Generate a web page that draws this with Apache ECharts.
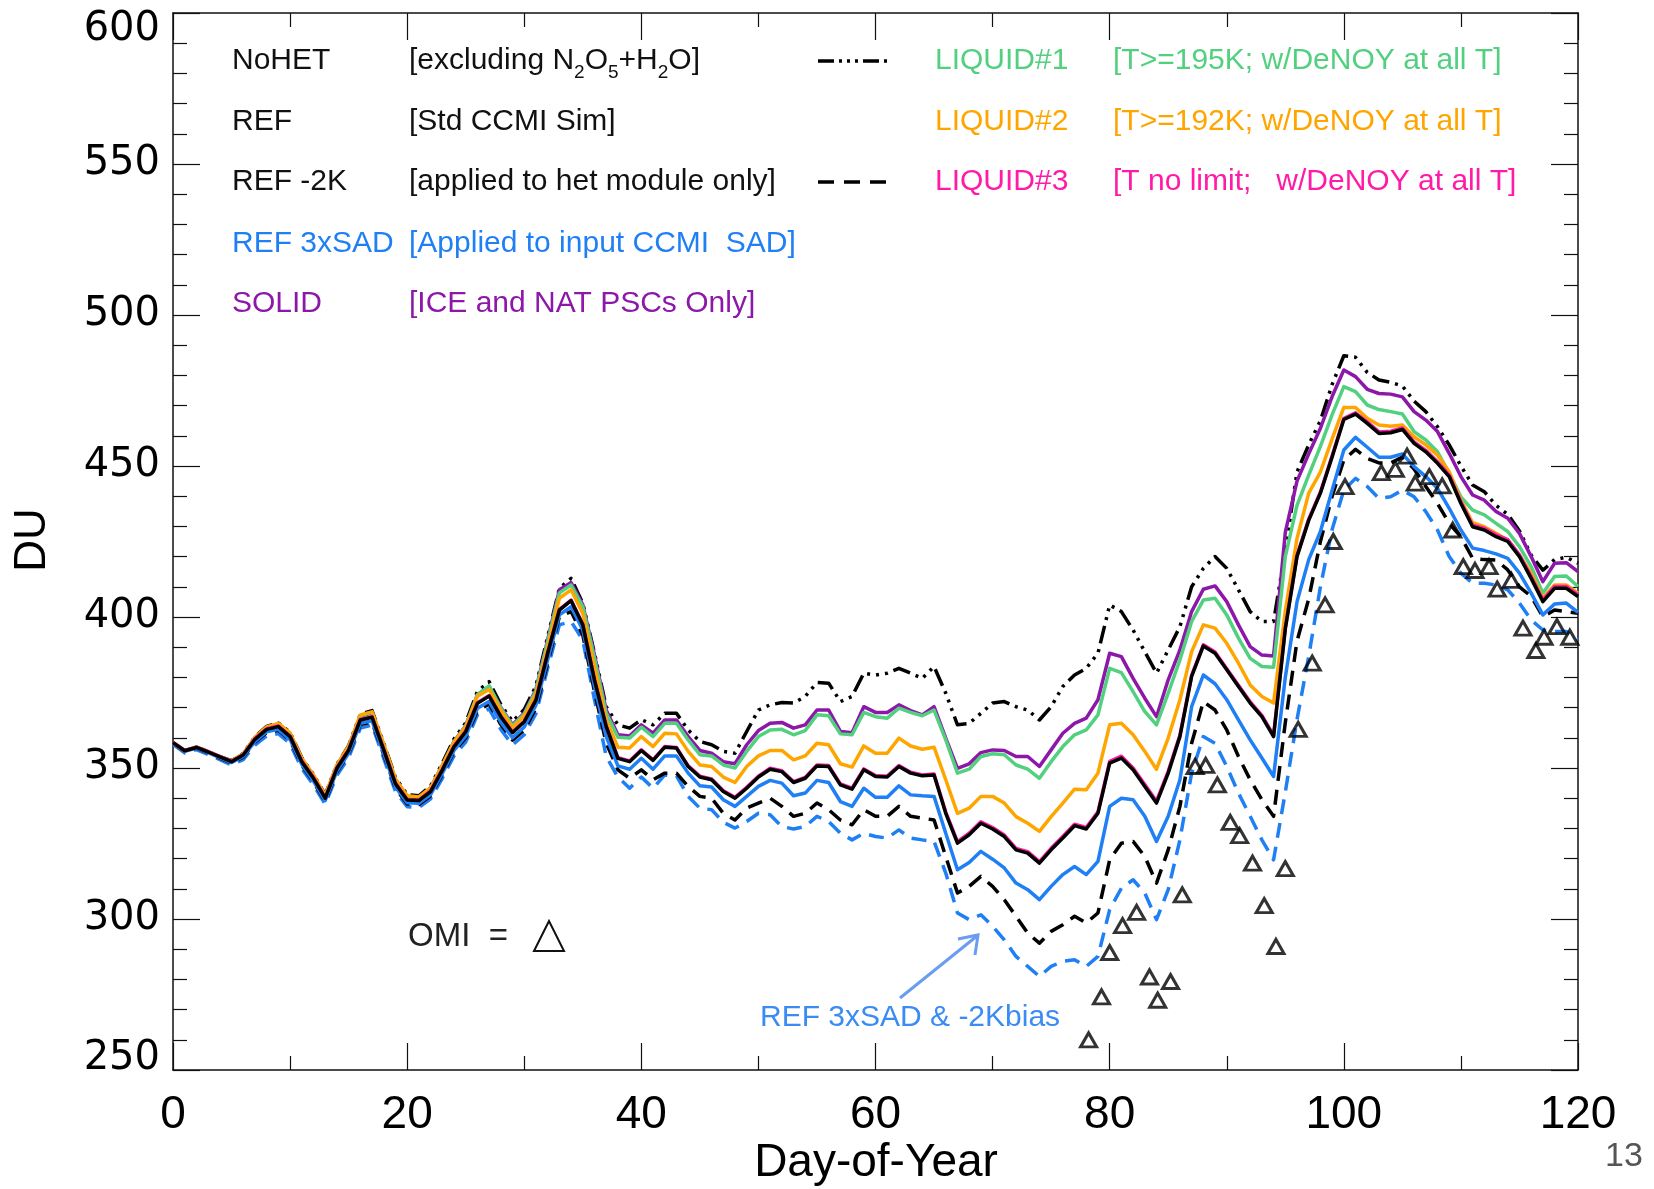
<!DOCTYPE html>
<html>
<head>
<meta charset="utf-8">
<title>DU vs Day-of-Year</title>
<script src="https://cdn.jsdelivr.net/npm/echarts@6/dist/echarts.min.js"></script>
<style>
  html, body { margin: 0; padding: 0; background: #fff; }
  #chart { width: 1654px; height: 1189px; }
</style>
</head>
<body>
<div id="chart"></div>
<script>
// day index 0..120, one value per day for every model run
const days = Array.from({ length: 121 }, (_, i) => i)

const ref = [
  358.4,355.7,356.8,355.3,353.7,352.1,354.3,359.5,362.8,363.7,
  360.4,352.1,346.6,340.0,349.9,355.9,365.9,366.8,356.0,344.8,
  339.4,339.2,342.2,349.3,357.0,362.0,371.4,373.8,367.0,361.7,
  365.3,372.5,388.0,402.3,405.4,397.4,379.1,363.7,353.2,352.1,
  355.8,352.5,356.9,356.6,350.5,347.0,346.1,342.2,340.0,343.3,
  347.0,349.6,348.8,345.2,346.6,350.7,350.5,344.4,343.0,349.4,
  347.2,347.0,350.5,348.3,347.4,347.7,335.0,325.1,327.9,331.7,
  329.8,327.3,322.9,321.8,318.5,322.9,326.8,330.9,329.8,335.0,
  351.6,353.3,349.4,343.9,338.4,348.3,360.4,380.3,390.4,388.0,
  382.5,377.0,371.5,367.0,360.4,396.0,420.0,432.0,441.0,453.0,
  465.4,467.2,464.1,460.8,461.0,462.1,457.5,454.7,450.9,446.5,
  437.6,429.9,428.8,426.6,425.0,420.0,412.8,405.1,409.5,409.5,
  406.8
]

const solid = [
  358.4,355.7,356.9,355.4,353.8,352.3,354.6,360.0,363.5,364.6,
  361.3,353.0,347.4,340.8,350.8,357.0,367.2,368.3,357.5,346.2,
  340.6,340.3,343.4,350.8,358.8,364.0,374.2,377.0,370.0,364.3,
  368.2,376.0,392.4,409.0,411.4,404.0,387.4,369.2,361.0,360.6,
  364.3,361.5,365.9,365.9,360.4,355.8,354.9,352.1,351.4,357.7,
  362.4,364.8,365.1,363.2,364.3,369.2,369.2,362.1,361.7,370.3,
  368.4,368.4,370.9,369.0,367.6,370.3,359.9,349.9,351.4,355.1,
  356.0,355.8,353.8,353.8,350.5,356.0,361.5,364.8,366.5,372.6,
  388.0,386.9,379.7,373.1,367.0,379.2,389.1,401.8,409.2,410.3,
  405.1,397.4,390.2,387.4,387.1,428.0,445.0,454.0,462.5,473.0,
  481.8,479.6,475.4,474.0,473.8,472.9,468.0,465.2,461.4,454.2,
  446.5,440.4,438.7,434.9,432.7,427.7,420.0,411.7,417.8,418.0,
  415.0
]

const liquid1 = [
  358.4,355.7,356.9,355.4,353.8,352.3,354.6,360.0,363.4,364.5,
  361.2,352.9,347.3,340.7,350.7,356.9,367.3,368.5,357.6,346.1,
  340.5,340.2,343.3,350.7,358.7,363.9,374.3,377.2,369.8,364.0,
  367.9,375.6,391.8,408.0,410.6,403.4,386.3,368.1,360.2,359.9,
  363.5,360.4,364.8,364.8,359.3,354.4,354.0,351.0,350.0,355.5,
  360.4,362.6,362.8,361.0,362.4,367.6,367.3,361.3,361.0,368.4,
  367.0,366.5,369.8,368.4,367.3,369.2,359.3,348.3,349.6,353.8,
  354.7,354.4,351.0,349.6,346.6,352.1,357.1,361.0,362.6,367.6,
  383.0,381.6,375.3,368.7,364.3,374.8,385.8,398.5,405.6,406.2,
  400.7,393.0,386.3,383.6,383.4,420.0,437.0,447.0,456.5,467.0,
  476.3,474.6,470.2,468.7,468.0,467.2,461.4,458.6,454.7,447.6,
  439.8,435.4,433.8,431.0,428.3,423.3,416.7,407.9,413.4,413.6,
  410.1
]

const liquid2 = [
  358.4,355.7,356.9,355.4,353.8,352.3,354.6,360.2,363.6,364.8,
  361.6,353.2,347.6,341.0,351.0,357.2,367.6,368.6,357.8,346.4,
  340.8,340.4,343.4,350.8,358.6,363.6,373.8,376.0,369.0,363.4,
  367.2,374.6,390.2,406.2,409.0,401.2,383.6,365.9,356.9,356.6,
  360.4,357.1,361.5,361.3,355.5,351.0,350.5,347.0,345.2,350.5,
  354.0,355.8,355.8,352.7,354.0,358.2,357.7,351.4,350.3,357.3,
  354.9,354.9,359.9,357.3,356.2,356.9,346.1,335.0,336.7,340.6,
  340.6,338.4,333.9,331.7,329.0,333.9,338.4,343.0,342.8,348.3,
  364.3,364.8,361.0,355.5,349.6,359.9,372.6,388.5,397.4,396.3,
  391.3,384.7,377.5,373.7,371.5,402.0,426.0,441.0,448.0,459.0,
  469.4,469.4,465.8,463.6,463.2,463.6,459.7,457.0,453.6,448.1,
  438.7,431.2,429.9,427.7,425.5,420.5,414.5,406.2,410.6,410.6,
  407.9
]

const liquid3 = [
  358.5,355.8,356.9,355.4,353.8,352.2,354.4,359.7,363.0,363.9,
  360.6,352.3,346.8,340.2,350.1,356.1,366.1,367.0,356.2,345.0,
  339.6,339.4,342.4,349.5,357.2,362.2,371.6,374.0,367.2,361.9,
  365.5,372.7,388.2,402.5,405.6,397.6,379.3,363.9,353.4,352.3,
  356.0,352.7,357.1,356.8,350.7,347.3,346.4,342.5,340.3,343.6,
  347.3,349.9,349.1,345.5,346.9,351.0,350.8,344.7,343.3,349.7,
  347.5,347.3,350.8,348.6,347.7,348.0,335.4,325.6,328.4,332.2,
  330.3,327.8,323.4,322.3,319.0,323.4,327.3,331.4,330.3,335.5,
  352.2,353.9,350.0,344.5,339.0,348.9,360.9,380.7,390.8,388.4,
  382.9,377.4,371.9,367.4,360.8,396.4,420.4,432.4,441.4,453.4,
  465.8,467.6,464.6,461.3,461.5,462.6,458.0,455.2,451.4,447.0,
  438.1,430.4,429.4,427.2,425.6,420.6,413.4,405.7,410.1,410.1,
  407.4
]

const sad3x = [
  358.2,355.5,356.6,355.1,353.4,351.8,353.8,358.8,362.0,362.8,
  359.4,351.2,345.7,339.2,349.0,354.9,364.8,365.6,354.8,343.7,
  338.5,338.3,341.2,348.2,355.8,360.6,369.8,372.0,365.2,360.0,
  363.6,370.8,385.8,400.7,403.4,395.7,377.0,360.4,350.7,349.6,
  353.2,349.6,354.0,354.0,348.3,344.1,343.7,339.5,337.3,340.6,
  343.9,345.9,345.0,340.8,341.7,345.9,345.2,338.9,337.3,343.3,
  340.3,340.3,344.1,341.1,340.8,340.6,328.4,316.3,318.7,322.4,
  319.8,316.9,311.9,309.7,306.4,310.8,314.7,317.4,314.7,319.1,
  337.3,340.0,339.5,334.0,325.7,334.0,346.1,370.3,380.8,377.9,
  372.6,365.9,359.3,353.3,347.2,380.0,405.0,419.0,428.3,442.0,
  455.3,459.5,456.2,452.9,452.9,454.0,449.8,446.5,442.6,436.0,
  428.8,422.8,422.0,420.9,419.4,414.5,407.9,400.7,404.3,404.6,
  401.5
]

const ref2k = [
  358.2,355.5,356.6,355.0,353.3,351.7,353.6,358.6,361.7,362.5,
  359.1,350.9,345.4,338.9,348.7,354.6,364.4,365.2,354.4,343.3,
  338.1,337.9,340.8,347.8,355.4,360.0,369.0,371.2,364.4,359.2,
  362.6,369.8,384.7,400.1,401.8,394.0,375.3,358.2,349.4,346.6,
  349.4,346.1,348.3,348.3,343.9,340.6,340.0,335.0,332.8,336.7,
  338.4,340.0,337.3,334.0,335.0,338.4,336.2,332.8,331.2,336.2,
  334.0,334.0,337.3,334.0,333.4,332.8,320.7,308.6,310.8,314.1,
  310.8,306.4,300.9,295.3,292.0,295.9,298.1,300.9,298.7,302.0,
  319.6,325.1,325.7,320.7,311.9,322.9,337.3,358.2,372.0,369.2,
  362.6,353.8,346.1,339.5,334.0,365.0,392.0,406.0,425.0,440.0,
  452.0,455.5,452.5,451.0,451.0,453.0,449.0,443.2,437.6,431.0,
  426.6,419.4,419.0,418.9,415.6,410.0,406.8,400.1,402.3,401.8,
  401.2
]

const sad3x2k = [
  357.8,355.0,356.1,354.5,352.8,351.0,352.8,357.6,360.6,361.4,
  358.0,349.8,344.4,338.0,347.6,353.4,363.2,364.2,353.2,342.2,
  337.2,336.9,339.8,346.6,354.0,358.6,367.6,369.6,362.8,357.6,
  361.0,368.0,383.0,397.4,398.5,392.4,372.6,353.8,347.0,343.3,
  347.0,343.3,347.7,347.4,340.6,336.7,336.2,332.0,330.1,332.3,
  335.0,334.5,330.6,329.8,330.6,334.0,332.3,328.4,326.2,328.4,
  327.3,326.8,329.5,326.8,326.2,325.7,315.2,302.0,299.8,301.4,
  297.6,293.1,287.6,284.3,281.0,284.3,286.0,286.5,284.3,287.6,
  303.1,310.2,313.0,308.6,299.8,309.7,326.2,348.3,360.4,358.2,
  350.5,341.7,334.0,326.2,319.6,342.0,366.0,387.0,410.0,429.0,
  442.0,445.9,443.2,439.3,439.8,442.0,439.8,434.9,428.8,420.0,
  414.5,411.2,411.2,410.6,409.0,404.6,399.0,395.7,395.2,395.2,
  392.4
]

const noHet = [
  358.4,355.7,356.9,355.4,353.8,352.4,354.8,360.3,363.8,364.9,
  361.8,353.4,347.8,341.2,351.2,357.4,367.8,369.0,358.2,346.8,
  341.2,340.8,344.0,351.6,359.6,365.0,375.4,378.6,371.0,365.4,
  369.4,377.2,393.5,409.5,412.8,404.5,388.0,370.3,364.3,363.2,
  366.0,364.3,368.1,368.1,362.6,358.8,357.7,355.5,354.9,362.1,
  369.2,370.9,371.7,371.5,373.7,378.3,378.1,372.0,373.7,381.4,
  380.8,381.4,383.0,381.4,379.7,383.6,374.8,364.3,364.8,368.1,
  371.5,372.0,370.3,369.2,365.9,370.3,377.0,380.8,383.0,388.0,
  404.0,401.8,395.7,388.5,381.4,389.1,396.8,410.0,416.1,420.0,
  416.1,409.0,401.8,398.5,398.5,422.0,448.0,457.0,465.0,477.0,
  486.5,486.0,481.0,478.5,477.7,476.5,471.5,468.0,463.0,457.0,
  450.0,443.7,441.5,437.0,434.0,428.5,420.5,415.5,419.0,419.8,
  417.8
]

// OMI observations
const omiDays = [78.2, 79.3, 80.0, 81.1, 82.3, 83.4, 84.1, 85.2, 86.2, 87.3,
  88.2, 89.2, 90.3, 91.1, 92.2, 93.2, 94.2, 95.0, 96.1, 97.3,
  98.4, 99.1, 100.1, 103.2, 104.4, 105.4, 106.1, 107.3, 108.4, 109.3,
  110.2, 111.2, 112.4, 113.1, 114.3, 115.3, 116.4, 117.1, 118.2, 119.3]
const omiDU = [260.0, 274.2, 288.9, 297.8, 302.2, 280.8, 273.1, 279.3, 308.0, 350.5,
  350.9, 344.4, 332.0, 327.6, 318.5, 304.4, 290.9, 316.7, 362.8, 384.7,
  404.0, 425.0, 443.2, 447.8, 448.9, 453.3, 444.3, 446.5, 443.4, 428.8,
  416.7, 415.4, 416.7, 409.2, 412.1, 396.3, 388.9, 393.3, 396.8, 393.3]

const xTicks = { min: 0, max: 120, interval: 20 }
const yTicks = { min: 250, max: 600, interval: 50 }

const FONT = '"Liberation Sans", Arial, Helvetica, sans-serif'
const YFONT = '"DejaVu Sans", ' + FONT
const C = {
  black: '#000000',
  blue: '#1f7ff5',
  purple: '#8c17a8',
  green: '#52d07f',
  orange: '#ffa500',
  magenta: '#ff1aa8',
  note: '#3b8bf5',
  arrow: '#6a9cf0'
}
const DASH = [15, 9]
const DASH_DOT3 = [18, 6, 3, 6, 3, 6, 3, 6]

const pairs = vals => days.map((d, i) => [d, vals[i]])

const lineSeries = (name, vals, color, type) => ({
  name,
  type: 'line',
  data: pairs(vals),
  symbol: 'none',
  silent: true,
  lineStyle: { color, width: 3.5, type, cap: 'butt', join: 'round' }
})

const xAxisBase = pos => ({
  type: 'value',
  position: pos,
  min: xTicks.min, max: xTicks.max, interval: xTicks.interval,
  axisLine: { show: true, onZero: false, lineStyle: { color: '#111', width: 1.5 } },
  axisTick: { show: true, inside: true, length: 27, lineStyle: { color: '#111', width: 1.2 } },
  minorTick: { show: true, splitNumber: 2, length: 14, lineStyle: { color: '#111', width: 1.2 } },
  splitLine: { show: false },
  axisLabel: pos === 'bottom'
    ? { show: true, margin: 22, fontSize: 46, color: '#000', fontFamily: FONT }
    : { show: false }
})

// end labels sit inside the frame, as in the original
const yLabel = v => v === yTicks.max ? '{hi|' + v + '}' : v === yTicks.min ? '{lo|' + v + '}' : String(v)

const yAxisBase = pos => ({
  type: 'value',
  position: pos,
  min: yTicks.min, max: yTicks.max, interval: yTicks.interval,
  axisLine: { show: true, onZero: false, lineStyle: { color: '#111', width: 1.5 } },
  axisTick: { show: true, inside: true, length: 27, lineStyle: { color: '#111', width: 1.2 } },
  minorTick: { show: true, splitNumber: 5, length: 14, lineStyle: { color: '#111', width: 1.2 } },
  splitLine: { show: false },
  axisLabel: pos === 'left'
    ? {
        show: true, margin: 13, fontSize: 40, color: '#000', fontFamily: YFONT,
        formatter: yLabel,
        rich: {
          hi: { fontSize: 40, fontFamily: YFONT, color: '#000', padding: [33, 0, 0, 0] },
          lo: { fontSize: 40, fontFamily: YFONT, color: '#000', padding: [0, 0, 23, 0] }
        }
      }
    : { show: false }
})

const txt = (x, y, text, fill, size, extra) => ({
  type: 'text', x, y, silent: true, z: 100,
  style: Object.assign({
    text, fill, fontSize: size || 30, fontFamily: FONT, textVerticalAlign: 'middle'
  }, extra || {})
})

const rowY = [61, 122, 182, 244, 304]

const graphic = [
  txt(232, rowY[0], 'NoHET', '#111'),
  txt(409, rowY[0], '{a|[excluding N}{s|2}{a|O}{s|5}{a|+H}{s|2}{a|O]}', '#111', 30, {
    rich: {
      a: { fontSize: 30, fontFamily: FONT, fill: '#111', lineHeight: 42 },
      s: { fontSize: 19, fontFamily: FONT, fill: '#111', lineHeight: 19, verticalAlign: 'bottom' }
    }
  }),
  txt(232, rowY[1], 'REF', '#111'),
  txt(409, rowY[1], '[Std CCMI Sim]', '#111'),
  txt(232, rowY[2], 'REF -2K', '#111'),
  txt(409, rowY[2], '[applied to het module only]', '#111'),
  txt(232, rowY[3], 'REF 3xSAD', C.blue),
  txt(409, rowY[3], '[Applied to input CCMI  SAD]', C.blue),
  txt(232, rowY[4], 'SOLID', C.purple),
  txt(409, rowY[4], '[ICE and NAT PSCs Only]', C.purple),
  txt(935, rowY[0], 'LIQUID#1', C.green),
  txt(1113, rowY[0], '[T>=195K; w/DeNOY at all T]', C.green),
  txt(935, rowY[1], 'LIQUID#2', C.orange),
  txt(1113, rowY[1], '[T>=192K; w/DeNOY at all T]', C.orange),
  txt(935, rowY[2], 'LIQUID#3', C.magenta),
  txt(1113, rowY[2], '[T no limit;   w/DeNOY at all T]', C.magenta),
  {
    type: 'line', silent: true, z: 100,
    shape: { x1: 818, y1: rowY[0], x2: 888, y2: rowY[0] },
    style: { stroke: '#000', lineWidth: 3.5, lineDash: [16, 5, 3, 5, 3, 5, 3, 5], lineCap: 'butt' }
  },
  {
    type: 'line', silent: true, z: 100,
    shape: { x1: 818, y1: rowY[2], x2: 886, y2: rowY[2] },
    style: { stroke: '#000', lineWidth: 3.5, lineDash: [16, 10], lineCap: 'butt' }
  },
  txt(408, 937, 'OMI  =', '#222', 33),
  {
    type: 'polygon', silent: true, z: 100,
    shape: { points: [[549, 921], [534, 951], [564, 951]] },
    style: { fill: 'none', stroke: '#111', lineWidth: 2 }
  },
  txt(760, 1018, 'REF 3xSAD & -2Kbias', C.note, 30),
  {
    type: 'line', silent: true, z: 100,
    shape: { x1: 900, y1: 998, x2: 977, y2: 936 },
    style: { stroke: C.arrow, lineWidth: 3 }
  },
  {
    type: 'polyline', silent: true, z: 100,
    shape: { points: [[958, 939], [978, 935], [975, 955]] },
    style: { stroke: C.arrow, lineWidth: 3, fill: 'none' }
  },
  Object.assign(txt(33, 540, 'DU', '#000', 44, { textAlign: 'center' }), { rotation: Math.PI / 2 }),
  txt(876, 1163, 'Day-of-Year', '#000', 46, { textAlign: 'center' }),
  txt(1624, 1157, '13', '#555', 34, {
    textAlign: 'center', textShadowColor: '#bbb', textShadowOffsetX: 2, textShadowOffsetY: 2
  })
]

const option = {
  animation: false,
  backgroundColor: '#fff',
  grid: { left: 173, right: 76, top: 13, bottom: 119, containLabel: false },
  xAxis: [xAxisBase('bottom'), xAxisBase('top')],
  yAxis: [yAxisBase('left'), yAxisBase('right')],
  series: [
    lineSeries('REF 3xSAD & -2K', sad3x2k, C.blue, DASH),
    lineSeries('REF -2K', ref2k, C.black, DASH),
    lineSeries('NoHET', noHet, C.black, DASH_DOT3),
    lineSeries('REF 3xSAD', sad3x, C.blue, 'solid'),
    lineSeries('SOLID', solid, C.purple, 'solid'),
    lineSeries('LIQUID#1', liquid1, C.green, 'solid'),
    lineSeries('LIQUID#2', liquid2, C.orange, 'solid'),
    lineSeries('LIQUID#3', liquid3, C.magenta, 'solid'),
    lineSeries('REF', ref, C.black, 'solid'),
    {
      name: 'OMI',
      type: 'scatter',
      data: omiDays.map((d, i) => [d, omiDU[i]]),
      symbol: 'triangle',
      symbolSize: [16, 14],
      silent: true,
      z: 5,
      itemStyle: { color: 'rgba(255,255,255,0)', borderColor: '#000', borderWidth: 3 }
    }
  ],
  graphic
}

const chart = echarts.init(document.getElementById('chart'), null, { renderer: 'canvas' })
chart.setOption(option)
</script>
</body>
</html>
